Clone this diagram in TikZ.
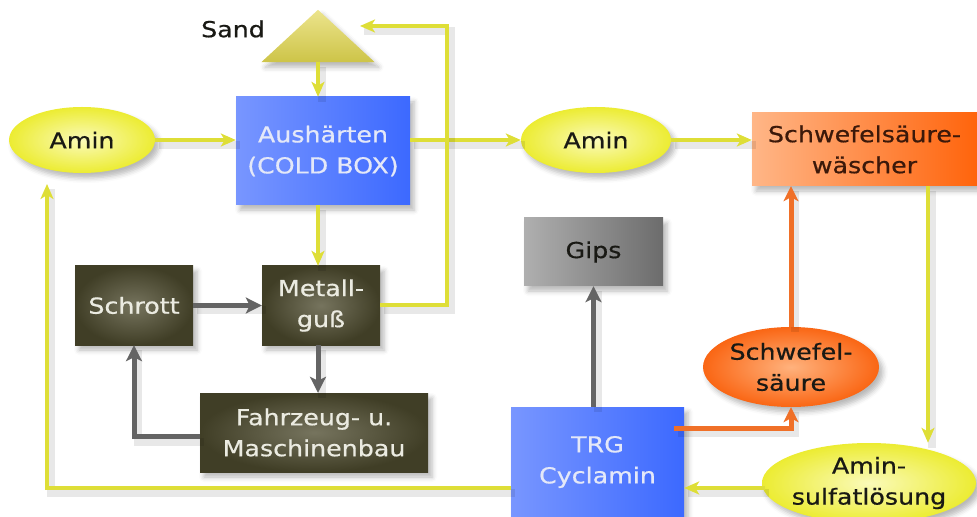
\documentclass[tikz,border=0pt]{standalone}
\usepackage{fontspec}
\setmainfont{DejaVu Sans}[FakeStretch=1.15, FakeBold=0.6]
\usetikzlibrary{arrows.meta,shapes.geometric,shadows.blur,calc}

\definecolor{ylwline}{RGB}{222,222,55}
\definecolor{ylwin}{RGB}{250,250,185}
\definecolor{ylwout}{RGB}{236,236,50}
\definecolor{gryline}{RGB}{100,100,100}
\definecolor{orline}{RGB}{240,112,40}
\definecolor{bluL}{RGB}{120,150,255}
\definecolor{bluR}{RGB}{60,105,255}
\definecolor{bluTxt}{RGB}{228,232,248}
\definecolor{orL}{RGB}{255,182,135}
\definecolor{orR}{RGB}{255,100,12}
\definecolor{orTxt}{RGB}{60,25,10}
\definecolor{gipsL}{RGB}{175,175,175}
\definecolor{gipsR}{RGB}{108,108,108}
\definecolor{olIn}{RGB}{118,116,94}
\definecolor{olOut}{RGB}{64,62,38}
\definecolor{olTxt}{RGB}{235,235,225}
\definecolor{orEin}{RGB}{255,178,125}
\definecolor{orEout}{RGB}{250,102,20}
\definecolor{sandT}{RGB}{236,228,140}
\definecolor{sandB}{RGB}{205,196,72}
\definecolor{txtdark}{RGB}{25,25,20}

\tikzset{
  every node/.style={font=\fontsize{22bp}{31bp}\selectfont, align=center, inner sep=0pt},
  shad/.style={blur shadow={shadow xshift=4bp, shadow yshift=-5bp, shadow blur radius=5bp, shadow opacity=28}},
  yell/.style={ellipse, inner sep=-10bp, inner color=ylwin, outer color=ylwout, text=txtdark, shad},
  orell/.style={ellipse, inner sep=-10bp, inner color=orEin, outer color=orEout, text=txtdark, shad},
  blubox/.style={rectangle, left color=bluL, right color=bluR, text=bluTxt, shad},
  orbox/.style={rectangle, left color=orL, right color=orR, text=orTxt, shad},
  gipsbox/.style={rectangle, left color=gipsL, right color=gipsR, text=txtdark, shad},
  olbox/.style={rectangle, inner color=olIn, outer color=olOut, text=olTxt, shad},
  lshad/.style={preaction={draw=black, opacity=0.09, line width=8bp, arrows=-, transform canvas={shift={(4bp,-5bp)}}}},
  yarr/.style={draw=ylwline, line width=4bp, -{Stealth[length=15bp,width=13bp,inset=4bp]}, lshad},
  garr/.style={draw=gryline, line width=5bp, -{Stealth[length=16bp,width=16bp,inset=4bp]}, lshad},
  oarr/.style={draw=orline, line width=5bp, -{Stealth[length=15bp,width=15bp,inset=4bp]}, lshad},
}

\begin{document}
\begin{tikzpicture}[x=1bp, y=-1bp]
\useasboundingbox (0,0) rectangle (977,517);

% Sand
\node[minimum width=113bp, minimum height=52bp] (sand) at (318,36) {};
\shade[top color=sandT, bottom color=sandB, shad] (sand.south west) -- (sand.north) -- (sand.south east) -- cycle;
\node[text=txtdark] (sandlbl) at (233,29) {Sand};

% nodes
\node[yell, minimum width=146bp, minimum height=66bp] (aminL) at (82,140) {Amin};
\node[blubox, minimum width=174bp, minimum height=108bp] (aush) at (323,151) {Aushärten\\(COLD BOX)};
\node[yell, minimum width=150bp, minimum height=66bp] (aminM) at (596,140) {Amin};
\node[orbox, minimum width=225bp, minimum height=73bp] (wasch) at (864.5,149.5) {Schwefelsäure-\\wäscher};
\node[gipsbox, minimum width=139bp, minimum height=68bp] (gips) at (593.5,252) {Gips};
\node[olbox, minimum width=118bp, minimum height=79bp] (schrott) at (134,305.5) {Schrott};
\node[olbox, minimum width=118bp, minimum height=79bp] (metall) at (321,305.5) {Metall-\\guß};
\node[olbox, minimum width=228bp, minimum height=79bp] (fahr) at (314,432.5) {Fahrzeug- u.\\Maschinenbau};
\node[blubox, minimum width=173bp, minimum height=110bp] (trg) at (597.5,462) {TRG\\Cyclamin};
\node[orell, minimum width=176bp, minimum height=80bp] (schw) at (791,367) {Schwefel-\\säure};
\node[yell, minimum width=214bp, minimum height=80bp] (amsulf) at (869,483) {Amin-\\sulfatlösung};

\coordinate (sandin) at (360,26);
\coordinate (loopTop) at (447,26);
\coordinate (aminLin) at (47,184);

% connectors
\draw[yarr] (aminL.east) -- (aminL.east -| aush.west);
\draw[yarr] (sand.south) -- (sand.south |- aush.north);
\draw[yarr] (aush.east |- aminM) -- (aminM.west);
\draw[yarr] (aminM.east) -- (aminM.east -| wasch.west);
\draw[yarr] (aush.south -| sand.south) -- (metall.north -| sand.south);
\draw[yarr] (metall.east) -| (loopTop) -- (sandin);
\draw[garr] (schrott.east) -- (metall.west);
\draw[garr] (metall.south -| sand.south) -- (fahr.north -| sand.south);
\draw[garr] ($(fahr.west)+(0,4)$) -| (schrott.south);
\draw[yarr] ($(trg.west)+(0,26)$) -| (aminLin);
\draw[yarr] ($(amsulf.west)+(3,5)$) -- ($(trg.east)+(0,26)$);
\draw[oarr] ($(trg.east)+(-10,-34)$) -| (schw.south);
\draw[oarr] (schw.north) -- (schw.north |- wasch.south);
\draw[yarr] ($(wasch.south)+(63.5,0)$) coordinate (wx) -- (wx |- amsulf.north);
\draw[garr] (gips.south |- trg.north) -- (gips.south);
\end{tikzpicture}
\end{document}
